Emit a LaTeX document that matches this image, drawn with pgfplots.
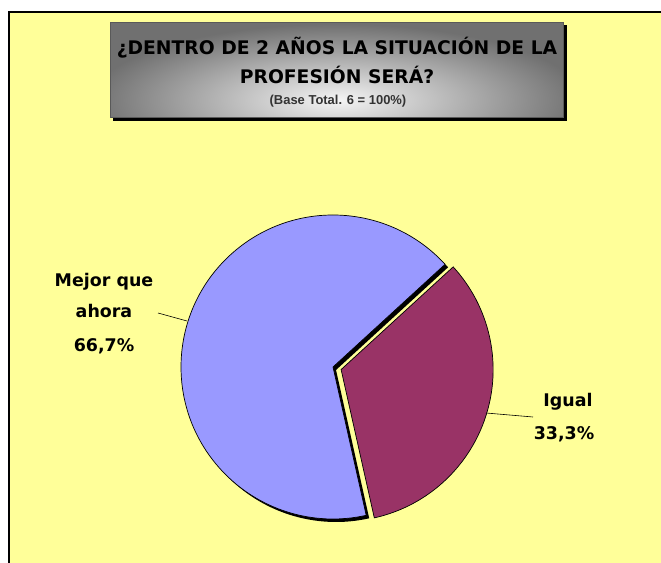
\documentclass[border=0pt]{standalone}
\usepackage{pgfplots}
\pgfplotsset{compat=1.18}
\usepackage{pgfplotstable}
\usepackage{fontspec}
\setmainfont{DejaVu Sans}
\newfontfamily\arialfont{Liberation Sans}
\definecolor{bgyellow}{HTML}{FFFF99}
\definecolor{sliceblue}{HTML}{9999FF}
\definecolor{slicered}{HTML}{993366}

\pgfplotstableread{
label value
Mejor 66.7
Igual 33.3
}\piedata

\begin{document}
\begin{tikzpicture}[x=1bp,y=1bp]
\pgfplotstablegetelem{0}{value}\of\piedata \pgfmathsetmacro\va{\pgfplotsretval}
\pgfplotstablegetelem{1}{value}\of\piedata \pgfmathsetmacro\vb{\pgfplotsretval}
\pgfmathsetmacro\total{\va+\vb}
\pgfmathsetmacro\sa{42.5}
\pgfmathsetmacro\ea{\sa+\va/\total*360}
\pgfmathsetmacro\eb{\ea+\vb/\total*360}
\pgfmathsetmacro\mb{(\ea+\eb)/2}
\pgfmathsetmacro\rx{333+8.5*cos(\mb)}
\pgfmathsetmacro\ry{196+8.5*sin(\mb)}

% background
\fill[white] (0,0) rectangle (661,563);
\fill[bgyellow] (9,0) rectangle (661,551);
\draw[black, line width=1.2bp] (9,0) -- (9,551) -- (661,551);

% title box
\fill[black] (113,442) rectangle (567,538);
\begin{scope}
\clip (110,446) rectangle (563,541);
\fill[black!56] (110,446) rectangle (563,541);
\shade[inner color=black!4, outer color=black!56] (337,463) ellipse [x radius=245, y radius=76];
\end{scope}
\draw[black!65, line width=0.6bp] (110,446) rectangle (563,541);
\node[anchor=base, font=\bfseries\fontsize{18.8}{20}\selectfont, inner sep=0] at (337,508) {¿DENTRO DE 2 AÑOS LA SITUACIÓN DE LA};
\node[anchor=base, font=\bfseries\fontsize{18.8}{20}\selectfont, inner sep=0] at (337,479) {PROFESIÓN SERÁ?};
\node[anchor=base, text=black!80, font=\arialfont\bfseries\fontsize{13}{15}\selectfont, inner sep=0] at (338,458) {(Base Total. 6 = 100\%)};

\begin{axis}[x=1bp, y=1bp, xmin=0, xmax=661, ymin=0, ymax=563,
  hide axis, clip=false, anchor=south west, at={(0,0)}]
  % shadow of the larger slice
  \fill[black] (axis cs:336,193) -- ++(\sa:152bp) arc[start angle=\sa, end angle=\ea, radius=152bp] -- cycle;
  \filldraw[fill=sliceblue, draw=black, line width=0.7bp] (axis cs:333,196) -- ++(\sa:152bp) arc[start angle=\sa, end angle=\ea, radius=152bp] -- cycle;
  \filldraw[fill=slicered, draw=black, line width=0.7bp] (axis cs:\rx,\ry) -- ++(\ea:152bp) arc[start angle=\ea, end angle=\eb, radius=152bp] -- cycle;
\end{axis}

% labels
\draw[black, line width=0.6bp] (158,250) -- (187,242);
\draw[black, line width=0.6bp] (486,150) -- (533,146);
\begin{scope}[every node/.style={anchor=base, inner sep=0, font=\bfseries\fontsize{17.5}{20}\selectfont}]
\node at (104,276) {Mejor que};
\node at (104,245) {ahora};
\node at (104,211) {66,7\%};
\node at (568,156) {Igual};
\node at (564,123) {33,3\%};
\end{scope}
\pgfresetboundingbox
\useasboundingbox (0,0) rectangle (661,563);
\end{tikzpicture}
\end{document}
